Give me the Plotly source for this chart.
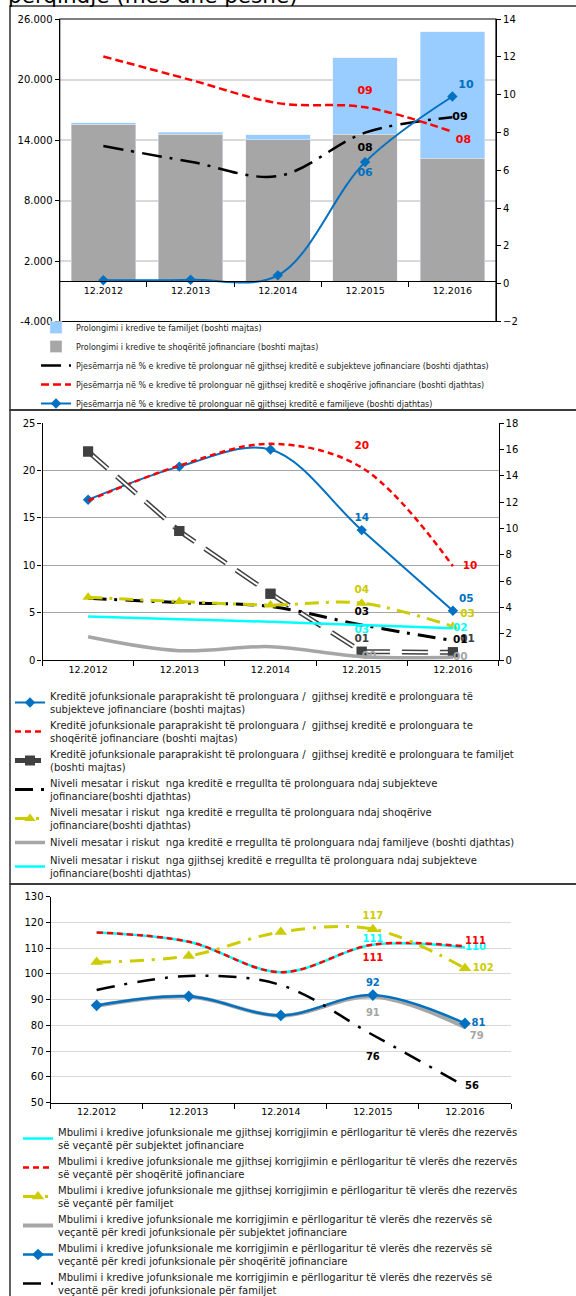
import plotly.graph_objects as go

W, H = 576, 1296

def px_x(p):
    return p / W

def px_y(p):
    return 1 - p / H

# ---------------- DATA ----------------
cats = ["12.2012", "12.2013", "12.2014", "12.2015", "12.2016"]

# Panel 1
p1_bar_shoqeri = [15550, 14560, 14030, 14560, 12180]
p1_bar_familje = [170, 230, 500, 7600, 12560]
p1_pct_subjekte = [7.28, 6.45, 5.69, 7.99, 8.80]
p1_pct_shoqeri = [12.02, 10.78, 9.55, 9.33, 8.04]
p1_pct_familje = [0.18, 0.21, 0.44, 6.43, 9.90]
p1_left_ticks = [-4000, 2000, 8000, 14000, 20000, 26000]
p1_left_ticktext = ["-4.000", "2.000", "8.000", "14.000", "20.000", "26.000"]

# Panel 2
p2_npl_subjekte = [16.9, 20.4, 22.2, 13.7, 5.2]
p2_npl_shoqeri = [16.8, 20.5, 22.8, 20.3, 9.9]
p2_npl_familje = [22.0, 13.6, 7.0, 0.88, 0.81]
p2_risk_subjekte = [4.69, 4.36, 4.06, 2.66, 1.47]
p2_risk_shoqeri = [4.77, 4.44, 4.18, 4.31, 2.55]
p2_risk_familje = [1.77, 0.71, 1.01, 0.25, 0.20]
p2_risk_gjithsej = [3.30, 3.10, 2.90, 2.66, 2.41]

# Panel 3
p3_gj_subjekte = [116.1, 112.5, 100.7, 111.3, 110.3]
p3_gj_shoqeri = [116.1, 112.5, 100.7, 111.4, 110.7]
p3_gj_familje = [104.6, 107.0, 116.3, 117.4, 102.2]
p3_k_subjekte = [87.6, 91.2, 83.8, 91.2, 79.3]
p3_k_shoqeri = [87.8, 91.3, 83.9, 91.8, 80.8]
p3_k_familje = [93.8, 99.2, 95.7, 76.3, 56.4]

FONT = "DejaVu Sans"
BLUE = "#0070c0"
RED = "#ff0000"
YEL = "#cccc00"
GRAY = "#a6a6a6"
DGRAY = "#404040"
CYAN = "#00ffff"
CLEAR = "rgba(0,0,0,0)"


def lab2(vals):
    return ["" if i < 3 else f"{v:02.0f}" for i, v in enumerate(vals)]


def lab3(vals):
    return ["" if i < 3 else f"{v:.0f}" for i, v in enumerate(vals)]


def pos(a, b):
    return ["top center", "top center", "top center", a, b]


def tf(color, size):
    return dict(color=color, size=size, family=FONT, weight="bold")


def spacer(a, b):
    # invisible marker used only to push a data label away from its line
    return dict(size=[0, 0, 0, a, b], color=CLEAR, line=dict(width=0))


fig = go.Figure()

# ---------------- PANEL 1 ----------------
fig.add_trace(go.Bar(x=cats, y=p1_bar_shoqeri, marker_color=GRAY, name="Prolongimi i kredive te shoqëritë jofinanciare (boshti majtas)",
                     xaxis="x", yaxis="y", legend="legend", legendrank=2))
fig.add_trace(go.Bar(x=cats, y=p1_bar_familje, marker_color="#99ccff", name="Prolongimi i kredive te familjet (boshti majtas)",
                     xaxis="x", yaxis="y", legend="legend", legendrank=1))
fig.add_trace(go.Scatter(x=cats, y=p1_pct_subjekte, mode="lines+markers+text", line=dict(color="black", width=2.5, dash="20px,8px,3px,8px", shape="spline"),
                         marker=spacer(14, 0),
                         text=lab2(p1_pct_subjekte), textposition=pos("bottom center", "middle right"),
                         textfont=tf("black", 11),
                         name="Pjesëmarrja në % e kredive të prolonguar në gjithsej kreditë e subjekteve jofinanciare (boshti djathtas)",
                         xaxis="x", yaxis="y2", legend="legend", legendrank=3))
fig.add_trace(go.Scatter(x=cats, y=p1_pct_shoqeri, mode="lines+markers+text", line=dict(color=RED, width=2.5, dash="8px,4px", shape="spline"),
                         marker=spacer(16, 4),
                         text=lab2(p1_pct_shoqeri), textposition=pos("top center", "bottom right"),
                         textfont=tf(RED, 11),
                         name="Pjesëmarrja në % e kredive të prolonguar në gjithsej kreditë e shoqërive jofinanciare (boshti djathtas)",
                         xaxis="x", yaxis="y2", legend="legend", legendrank=4))
fig.add_trace(go.Scatter(x=cats, y=p1_pct_familje, mode="lines+markers+text", line=dict(color=BLUE, width=2, shape="spline"),
                         marker=dict(symbol="diamond", size=8, color=BLUE),
                         text=lab2(p1_pct_familje), textposition=pos("bottom center", "top right"),
                         textfont=tf(BLUE, 11),
                         name="Pjesëmarrja në % e kredive të prolonguar në gjithsej kreditë e familjeve (boshti djathtas)",
                         xaxis="x", yaxis="y2", legend="legend", legendrank=5))

# ---------------- PANEL 2 ----------------
fig.add_trace(go.Scatter(x=cats, y=p2_npl_subjekte, mode="lines+markers+text", line=dict(color=BLUE, width=2, shape="spline"),
                         marker=dict(symbol="diamond", size=8, color=BLUE),
                         text=lab2(p2_npl_subjekte), textposition=pos("top center", "top right"),
                         textfont=tf(BLUE, 10.5),
                         name="Kreditë jofunksionale paraprakisht të prolonguara /  gjithsej kreditë e prolonguara të<br>subjekteve jofinanciare (boshti majtas)",
                         xaxis="x2", yaxis="y3", legend="legend2", legendrank=1))
fig.add_trace(go.Scatter(x=cats, y=p2_npl_shoqeri, mode="lines+markers+text", line=dict(color=RED, width=2.5, dash="6px,4px", shape="spline"),
                         marker=spacer(24, 14),
                         text=lab2(p2_npl_shoqeri), textposition=pos("top center", "middle right"),
                         textfont=tf(RED, 10.5),
                         name="Kreditë jofunksionale paraprakisht të prolonguara /  gjithsej kreditë e prolonguara te<br>shoqëritë jofinanciare (boshti majtas)",
                         xaxis="x2", yaxis="y3", legend="legend2", legendrank=2))
fig.add_trace(go.Scatter(x=cats, y=p2_npl_familje, mode="lines+markers+text", line=dict(color=DGRAY, width=5, dash="26px,12px"),
                         marker=dict(symbol="square", size=10, color=DGRAY),
                         text=lab2(p2_npl_familje), textposition=pos("top center", "top right"),
                         textfont=tf(DGRAY, 10.5),
                         name="Kreditë jofunksionale paraprakisht të prolonguara /  gjithsej kreditë e prolonguara te familjet<br>(boshti majtas)",
                         xaxis="x2", yaxis="y3", legend="legend2", legendrank=3))
fig.add_trace(go.Scatter(x=cats, y=p2_npl_familje, mode="lines+markers", line=dict(color="white", width=2, dash="26px,12px"),
                         marker=dict(symbol="square", size=10, color=DGRAY),
                         showlegend=False, xaxis="x2", yaxis="y3", legend="legend2"))
fig.add_trace(go.Scatter(x=cats, y=p2_risk_subjekte, mode="lines+markers+text", line=dict(color="black", width=3, dash="18px,8px,3px,8px", shape="spline"),
                         marker=spacer(10, 0),
                         text=lab2(p2_risk_subjekte), textposition=pos("top center", "middle right"),
                         textfont=tf("black", 10.5),
                         name="Niveli mesatar i riskut  nga kreditë e rregullta të prolonguara ndaj subjekteve<br>jofinanciare(boshti djathtas)",
                         xaxis="x2", yaxis="y4", legend="legend2", legendrank=4))
fig.add_trace(go.Scatter(x=cats, y=p2_risk_shoqeri, mode="lines+markers+text", line=dict(color=YEL, width=3, dash="14px,7px,3px,7px", shape="spline"),
                         marker=dict(symbol="triangle-up", size=10, color=YEL),
                         text=lab2(p2_risk_shoqeri), textposition=pos("top center", "top right"),
                         textfont=tf(YEL, 10.5),
                         name="Niveli mesatar i riskut  nga kreditë e rregullta të prolonguara ndaj shoqërive<br>jofinanciare(boshti djathtas)",
                         xaxis="x2", yaxis="y4", legend="legend2", legendrank=5))
fig.add_trace(go.Scatter(x=cats, y=p2_risk_familje, mode="lines+text", line=dict(color=GRAY, width=3.5, shape="spline"),
                         text=lab2(p2_risk_familje), textposition=pos("middle right", "middle right"),
                         textfont=tf(GRAY, 10.5),
                         name="Niveli mesatar i riskut  nga kreditë e rregullta të prolonguara ndaj familjeve (boshti djathtas)",
                         xaxis="x2", yaxis="y4", legend="legend2", legendrank=6))
fig.add_trace(go.Scatter(x=cats, y=p2_risk_gjithsej, mode="lines+text", line=dict(color=CYAN, width=2.5, shape="spline"),
                         text=lab2(p2_risk_gjithsej), textposition=pos("bottom center", "middle right"),
                         textfont=tf(CYAN, 10.5),
                         name="Niveli mesatar i riskut  nga gjithsej kreditë e rregullta të prolonguara ndaj subjekteve<br>jofinanciare(boshti djathtas)",
                         xaxis="x2", yaxis="y4", legend="legend2", legendrank=7))

# ---------------- PANEL 3 ----------------
fig.add_trace(go.Scatter(x=cats, y=p3_gj_subjekte, mode="lines+text", line=dict(color=CYAN, width=2.5, shape="spline"),
                         text=lab3(p3_gj_subjekte), textposition=pos("top center", "middle right"),
                         textfont=tf(CYAN, 10),
                         name="Mbulimi i kredive jofunksionale me gjithsej korrigjimin e përllogaritur të vlerës dhe rezervës<br>së veçantë për subjektet jofinanciare",
                         xaxis="x3", yaxis="y5", legend="legend3", legendrank=1))
fig.add_trace(go.Scatter(x=cats, y=p3_gj_shoqeri, mode="lines+markers+text", line=dict(color=RED, width=2.5, dash="6px,4px", shape="spline"),
                         marker=spacer(12, 0),
                         text=lab3(p3_gj_shoqeri), textposition=pos("bottom center", "top right"),
                         textfont=tf(RED, 10),
                         name="Mbulimi i kredive jofunksionale me gjithsej korrigjimin e përllogaritur të vlerës dhe rezervës<br>së veçantë për shoqëritë jofinanciare",
                         xaxis="x3", yaxis="y5", legend="legend3", legendrank=2))
fig.add_trace(go.Scatter(x=cats, y=p3_gj_familje, mode="lines+markers+text", line=dict(color=YEL, width=3, dash="14px,8px,3px,8px", shape="spline"),
                         marker=dict(symbol="triangle-up", size=11, color=YEL),
                         text=lab3(p3_gj_familje), textposition=pos("top center", "middle right"),
                         textfont=tf(YEL, 10),
                         name="Mbulimi i kredive jofunksionale me gjithsej korrigjimin e përllogaritur të vlerës dhe rezervës<br>së veçantë për familjet",
                         xaxis="x3", yaxis="y5", legend="legend3", legendrank=3))
fig.add_trace(go.Scatter(x=cats, y=p3_k_subjekte, mode="lines+markers+text", line=dict(color=GRAY, width=4, shape="spline"),
                         marker=spacer(18, 6),
                         text=lab3(p3_k_subjekte), textposition=pos("bottom center", "bottom right"),
                         textfont=tf(GRAY, 10),
                         name="Mbulimi i kredive jofunksionale me korrigjimin e përllogaritur të vlerës dhe rezervës së<br>veçantë për kredi jofunksionale për subjektet jofinanciare",
                         xaxis="x3", yaxis="y5", legend="legend3", legendrank=4))
fig.add_trace(go.Scatter(x=cats, y=p3_k_shoqeri, mode="lines+markers+text", line=dict(color=BLUE, width=2.5, shape="spline"),
                         marker=dict(symbol="diamond", size=9, color=BLUE),
                         text=lab3(p3_k_shoqeri), textposition=pos("top center", "middle right"),
                         textfont=tf(BLUE, 10),
                         name="Mbulimi i kredive jofunksionale me korrigjimin e përllogaritur të vlerës dhe rezervës së<br>veçantë për kredi jofunksionale për shoqëritë jofinanciare",
                         xaxis="x3", yaxis="y5", legend="legend3", legendrank=5))
fig.add_trace(go.Scatter(x=cats, y=p3_k_familje, mode="lines+markers+text", line=dict(color="black", width=2.5, dash="18px,10px,3px,10px", shape="spline"),
                         marker=spacer(26, 0),
                         text=lab3(p3_k_familje), textposition=pos("bottom center", "middle right"),
                         textfont=tf("black", 10),
                         name="Mbulimi i kredive jofunksionale me korrigjimin e përllogaritur të vlerës dhe rezervës së<br>veçantë për kredi jofunksionale për familjet",
                         xaxis="x3", yaxis="y5", legend="legend3", legendrank=6))

ytickfont = dict(family=FONT, size=10, color="black")
xtickfont = dict(family=FONT, size=9.5, color="black")
xcommon = dict(type="category", showgrid=False, ticks="outside", tickson="boundaries", ticklen=5,
               tickcolor="black", tickfont=xtickfont, showline=True, linecolor="black", linewidth=1.2,
               range=[-0.5, 4.5], fixedrange=True)
ycommon = dict(zeroline=False, ticks="outside", ticklen=4, tickcolor="black", tickfont=ytickfont,
               showline=True, linecolor="black", linewidth=1.2)

fig.update_layout(
    width=W, height=H, margin=dict(l=0, r=0, t=0, b=0, autoexpand=False),
    paper_bgcolor="white", plot_bgcolor="white",
    font=dict(family=FONT, color="black"),
    barmode="stack", bargap=0.26,
    xaxis=dict(xcommon, domain=[px_x(59.7), px_x(496)], anchor="free", position=px_y(281.3)),
    yaxis=dict(ycommon, domain=[px_y(321.5), px_y(19)], anchor="x", range=[-4000, 26000], tickvals=p1_left_ticks,
               ticktext=p1_left_ticktext, showgrid=True, gridcolor="#d9d9d9", gridwidth=1.5),
    yaxis2=dict(ycommon, overlaying="y", side="right", anchor="x", range=[-2, 14], dtick=2, showgrid=False),
    xaxis2=dict(xcommon, domain=[px_x(42.5), px_x(498.5)], anchor="y3"),
    yaxis3=dict(ycommon, domain=[px_y(660), px_y(423)], anchor="x2", range=[0, 25], dtick=5, showgrid=True,
                gridcolor="#a6a6a6", gridwidth=1.2),
    yaxis4=dict(ycommon, overlaying="y3", side="right", anchor="x2", range=[0, 18], dtick=2, showgrid=False),
    xaxis3=dict(xcommon, domain=[px_x(50.6), px_x(511)], anchor="y5"),
    yaxis5=dict(ycommon, domain=[px_y(1102.7), px_y(896.7)], anchor="x3", range=[50, 130], dtick=10, showgrid=True,
                gridcolor="#d9d9d9", gridwidth=1.2),
    legend=dict(x=px_x(36), y=px_y(313), xanchor="left", yanchor="top", bgcolor=CLEAR,
                font=dict(family=FONT, size=8, color="#202020"), traceorder="normal", tracegroupgap=0),
    legend2=dict(x=px_x(10), y=px_y(683), xanchor="left", yanchor="top", bgcolor=CLEAR,
                 font=dict(family=FONT, size=10, color="#202020"), traceorder="normal", tracegroupgap=0),
    legend3=dict(x=px_x(18), y=px_y(1119), xanchor="left", yanchor="top", bgcolor=CLEAR,
                 font=dict(family=FONT, size=10, color="#202020"), traceorder="normal", tracegroupgap=0),
    showlegend=True,
)

# plot-area frame for panel 1 (top and bottom borders)
fig.add_shape(type="rect", xref="x domain", yref="y domain", x0=0, x1=1, y0=0, y1=1,
              line=dict(color="black", width=1.2), fillcolor=CLEAR, layer="above")

# outer panel frames
for top, bot in [(6, 410), (410, 884), (884, 1320)]:
    fig.add_shape(type="rect", xref="paper", yref="paper", x0=px_x(10), x1=px_x(600),
                  y0=px_y(bot), y1=px_y(top), line=dict(color="#303030", width=1.5),
                  fillcolor=CLEAR)

# title (cut at top of image)
fig.add_annotation(text="përqindje (mes dhe peshë)", xref="paper", yref="paper", x=px_x(6), y=1,
                   xanchor="left", yanchor="bottom", yshift=-10, showarrow=False,
                   font=dict(family="DejaVu Sans", size=21.5, color="black"))

fig.write_html("out.html")
